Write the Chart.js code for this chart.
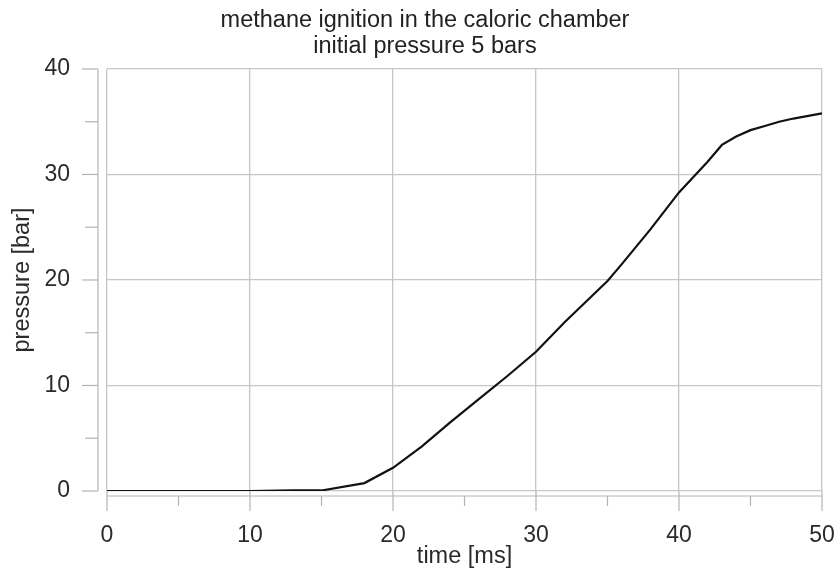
<!DOCTYPE html>
<html>
<head>
<meta charset="utf-8">
<script src="https://cdn.jsdelivr.net/npm/chart.js@4/dist/chart.umd.min.js"></script>
<style>
  html, body { margin: 0; padding: 0; background: #fff; }
  #wrap { width: 835px; height: 574px; }
</style>
</head>
<body>
<div id="wrap"><canvas id="c" width="835" height="574"></canvas></div>
<script>
const titleLines = ['methane ignition in the caloric chamber', 'initial pressure 5 bars'];
const xTitle = 'time [ms]';
const yTitle = 'pressure [bar]';
const timeMs = [0, 5, 10, 13, 15, 18, 20, 22, 24, 26, 28, 30, 32, 34, 35, 36, 38, 40, 42, 43, 44, 45, 46, 47, 48, 50];
const pressureBar = [0, 0, 0, 0.05, 0.05, 0.75, 2.2, 4.2, 6.5, 8.7, 10.9, 13.2, 16.0, 18.6, 19.9, 21.5, 24.8, 28.3, 31.2, 32.8, 33.6, 34.2, 34.6, 35.0, 35.3, 35.8];
const xTicks = [0, 10, 20, 30, 40, 50];
const yTicks = [0, 10, 20, 30, 40];

const FONT = '"Liberation Sans", Arial, sans-serif';
const GRID = '#c6c6c6';
const AXIS = '#b4b4b4';

const detachedAxes = {
  id: 'detachedAxes',
  afterDraw(chart) {
    const ctx = chart.ctx;
    const a = chart.chartArea;
    const xs = chart.scales.x, ys = chart.scales.y;
    ctx.save();
    ctx.strokeStyle = AXIS;
    ctx.lineWidth = 1.2;
    // y axis line
    const ax = a.left - 9;
    ctx.beginPath();
    ctx.moveTo(ax, ys.getPixelForValue(ys.max));
    ctx.lineTo(ax, ys.getPixelForValue(ys.min));
    ctx.stroke();
    ys.ticks.forEach(t => {
      const y = ys.getPixelForValue(t.value);
      const major = yTicks.includes(t.value);
      ctx.beginPath();
      ctx.moveTo(ax, y);
      ctx.lineTo(ax - (major ? 16 : 13), y);
      ctx.stroke();
    });
    // x axis line
    const ay = a.bottom + 5;
    ctx.beginPath();
    ctx.moveTo(xs.getPixelForValue(xs.min), ay);
    ctx.lineTo(xs.getPixelForValue(xs.max), ay);
    ctx.stroke();
    xs.ticks.forEach(t => {
      const x = xs.getPixelForValue(t.value);
      const major = xTicks.includes(t.value);
      ctx.beginPath();
      ctx.moveTo(x, major ? a.bottom : ay);
      ctx.lineTo(x, ay + (major ? 15 : 10));
      ctx.stroke();
    });
    ctx.restore();
  }
};

new Chart(document.getElementById('c'), {
  type: 'scatter',
  data: {
    datasets: [{
      data: timeMs.map((t, i) => ({ x: t, y: pressureBar[i] })),
      showLine: true,
      borderColor: '#111',
      borderWidth: 2.2,
      pointRadius: 0,
      tension: 0,
      fill: false
    }]
  },
  options: {
    responsive: false,
    animation: false,
    layout: { padding: { left: 28, right: 13, top: 0, bottom: 0 } },
    plugins: {
      legend: { display: false },
      tooltip: { enabled: false },
      title: {
        display: true,
        text: titleLines,
        color: '#222',
        font: { family: FONT, size: 23.5, weight: 'normal', lineHeight: 1.08 },
        padding: { top: 8, bottom: 10.2 }
      }
    },
    scales: {
      x: {
        type: 'linear',
        min: 0, max: 50,
        afterFit(s) { s.height = 83; s.paddingLeft = 0; s.paddingRight = 0; },
        border: { display: false },
        grid: {
          drawTicks: false,
          color: ctx => xTicks.includes(ctx.tick && ctx.tick.value) ? GRID : 'rgba(0,0,0,0)',
          lineWidth: 1.3
        },
        ticks: {
          stepSize: 5,
          padding: 30.7,
          maxRotation: 0,
          autoSkip: false,
          color: '#2a2a2a',
          font: { family: FONT, size: 23 },
          callback: v => xTicks.includes(v) ? String(v) : ''
        },
        title: {
          display: true,
          text: xTitle,
          color: '#2a2a2a',
          font: { family: FONT, size: 23.5 },
          padding: { top: 0, bottom: 3 }
        }
      },
      y: {
        type: 'linear',
        min: 0, max: 40,
        afterFit(s) { s.width = 79; s.paddingTop = 0; s.paddingBottom = 0; },
        border: { display: false },
        grid: {
          drawTicks: false,
          color: ctx => yTicks.includes(ctx.tick && ctx.tick.value) ? GRID : 'rgba(0,0,0,0)',
          lineWidth: 1.3
        },
        ticks: {
          stepSize: 5,
          padding: 37,
          autoSkip: false,
          color: '#2a2a2a',
          font: { family: FONT, size: 23 },
          callback: v => yTicks.includes(v) ? String(v) : ''
        },
        title: {
          display: true,
          text: yTitle,
          color: '#2a2a2a',
          font: { family: FONT, size: 23.5 },
          padding: { top: -19.6, bottom: 0 }
        }
      }
    }
  },
  plugins: [detachedAxes]
});
</script>
</body>
</html>
